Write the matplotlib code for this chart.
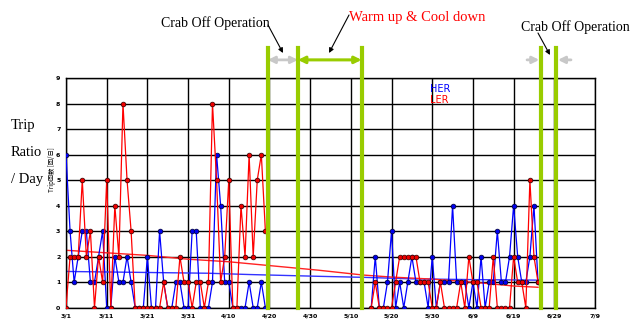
import matplotlib
matplotlib.use('Agg')
import matplotlib.pyplot as plt
import numpy as np

# x axis is in days counted from 3/1
tick_days = [0, 10, 20, 30, 40, 50, 60, 70, 80, 90, 100, 110, 120, 130]
tick_labels = ['3/1', '3/11', '3/21', '3/31', '4/10', '4/20', '4/30',
               '5/10', '5/20', '5/30', '6/9', '6/19', '6/29', '7/9']

# first run period (3/1 - 4/19)
days_a = list(range(0, 50))
her_a = [6, 3, 1, 2, 3, 3, 1, 1, 2, 3, 0, 0, 2, 1, 1, 2, 1, 0, 0, 0,
         2, 0, 0, 3, 1, 0, 0, 1, 1, 0, 0, 3, 3, 0, 0, 0, 1, 6, 4, 1,
         1, 0, 0, 0, 0, 1, 0, 0, 1, 0]
ler_a = [0, 2, 2, 2, 5, 2, 3, 0, 2, 1, 5, 0, 4, 2, 8, 5, 3, 0, 0, 0,
         0, 0, 0, 0, 1, 0, 0, 0, 2, 1, 1, 0, 1, 1, 0, 1, 8, 5, 1, 2,
         5, 0, 0, 4, 2, 6, 2, 5, 6, 3]

# second run period (5/15 - 6/25)
days_b = list(range(75, 117))
her_b = [0, 2, 0, 0, 1, 3, 0, 1, 0, 1, 2, 1, 1, 1, 0, 2, 0, 1, 1, 1,
         4, 1, 1, 1, 0, 1, 0, 2, 0, 1, 1, 3, 1, 1, 2, 4, 2, 1, 1, 2,
         4, 1]
ler_b = [0, 1, 0, 0, 0, 0, 1, 2, 2, 2, 2, 2, 1, 1, 1, 0, 0, 1, 0, 0,
         0, 0, 1, 0, 2, 1, 1, 0, 0, 0, 2, 0, 0, 0, 0, 2, 1, 1, 0, 5,
         2, 1]

# running average lines
her_avg_days = [0, 20, 35, 45, 62, 73, 85, 100, 116]
her_avg = [1.42, 1.38, 1.35, 1.3, 1.23, 1.19, 1.13, 1.1, 1.08]
ler_avg_days = [0, 10, 20, 30, 40, 50, 62, 73, 80, 90, 100, 110, 116]
ler_avg = [2.25, 2.15, 2.05, 1.9, 1.8, 1.65, 1.47, 1.28, 1.2, 1.12, 1.0, 0.85, 0.8]

# machine schedule markers (green lines)
sched_days = [49.6, 57.0, 72.65, 116.7, 120.4]

fig = plt.figure(figsize=(6.33, 3.2), dpi=100)
ax = fig.add_axes([66 / 633, 1 - 307.7 / 320, 529 / 633, 229.7 / 320])

green = '#99cc00'

for d, h in ((days_a, her_a), (days_b, her_b)):
    ax.plot(d, h, color='#0000ff', lw=0.9, marker='o', ms=3.4,
            mfc='#0000ee', mec='#000033', mew=0.5, zorder=3)
for d, l in ((days_a, ler_a), (days_b, ler_b)):
    ax.plot(d, l, color='#ff0000', lw=0.9, marker='o', ms=3.4,
            mfc='#ee0000', mec='#330000', mew=0.5, zorder=4)

ax.plot(her_avg_days, her_avg, color='#3333ff', lw=1.0, zorder=2)
ax.plot(ler_avg_days, ler_avg, color='#ff2222', lw=1.0, zorder=2)

ax.set_xlim(0, 130)
ax.set_ylim(0, 9)
ax.set_xticks(tick_days)
ax.set_xticklabels(tick_labels, fontsize=4.5, fontweight='bold')
ax.set_yticks(range(10))
ax.set_yticklabels([str(i) for i in range(10)], fontsize=4.5, fontweight='bold')
ax.tick_params(axis='x', length=0, pad=4)
ax.tick_params(axis='y', length=0, pad=4)
ax.grid(True, color='k', lw=1.0)
ax.set_axisbelow(True)
for s in ax.spines.values():
    s.set_color('k')
    s.set_linewidth(1.0)

ax.text(-0.027, 0.6, 'Trip回数 [回/日]', transform=ax.transAxes, rotation=90,
        fontsize=4.5, ha='center', va='center',
        family=['Noto Sans CJK JP', 'DejaVu Sans'])

# green schedule lines reaching above the plot
for d in sched_days:
    ax.plot([d, d], [0, 10.18], color=green, lw=3, clip_on=False, zorder=5)

# arrows between the lines
y_arr = 9.71
ax.annotate('', xy=(57.0, y_arr), xytext=(49.6, y_arr), annotation_clip=False,
            arrowprops=dict(arrowstyle='<|-|>', color='#c8c8c8', lw=2,
                            mutation_scale=10, shrinkA=0, shrinkB=0))
ax.annotate('', xy=(72.65, y_arr), xytext=(57.0, y_arr), annotation_clip=False,
            arrowprops=dict(arrowstyle='<|-|>', color=green, lw=2.2,
                            mutation_scale=10, shrinkA=0, shrinkB=0))
ax.annotate('', xy=(116.3, y_arr), xytext=(113.3, y_arr), annotation_clip=False,
            arrowprops=dict(arrowstyle='-|>', color='#c8c8c8', lw=2,
                            mutation_scale=10, shrinkA=0, shrinkB=0))
ax.annotate('', xy=(120.9, y_arr), xytext=(124.1, y_arr), annotation_clip=False,
            arrowprops=dict(arrowstyle='-|>', color='#c8c8c8', lw=2,
                            mutation_scale=10, shrinkA=0, shrinkB=0))

H = 320
serif = 'Liberation Serif'
fig.text(161 / 633, 1 - 23 / H, 'Crab Off Operation', fontsize=10, family=serif,
         va='center', ha='left')
fig.text(349 / 633, 1 - 17 / H, 'Warm up & Cool down', fontsize=10.5, family=serif,
         color='#ff0000', va='center', ha='left')
fig.text(521 / 633, 1 - 27 / H, 'Crab Off Operation', fontsize=10, family=serif,
         va='center', ha='left')

arr = dict(arrowstyle='-|>', color='k', lw=0.8, mutation_scale=7,
           shrinkA=0, shrinkB=0)
ax.annotate('', xy=(283, H - 53), xytext=(268, H - 25), xycoords='figure pixels',
            textcoords='figure pixels', arrowprops=arr, annotation_clip=False)
ax.annotate('', xy=(329, H - 53), xytext=(349, H - 15), xycoords='figure pixels',
            textcoords='figure pixels', arrowprops=arr, annotation_clip=False)
ax.annotate('', xy=(550, H - 55), xytext=(538, H - 33), xycoords='figure pixels',
            textcoords='figure pixels', arrowprops=arr, annotation_clip=False)

# legend labels
fig.text(430 / 633, 1 - 89 / H, 'HER', fontsize=7, color='#0000ff', va='center')
fig.text(430 / 633, 1 - 100 / H, 'LER', fontsize=7, color='#ff0000', va='center')

# big axis caption on the left
for txt, yp in (('Trip', 125), ('Ratio', 152), ('/ Day', 179)):
    fig.text(11 / 633, 1 - yp / H, txt, fontsize=10.5, family=serif, va='center')

fig.savefig('out.png', dpi=100)
